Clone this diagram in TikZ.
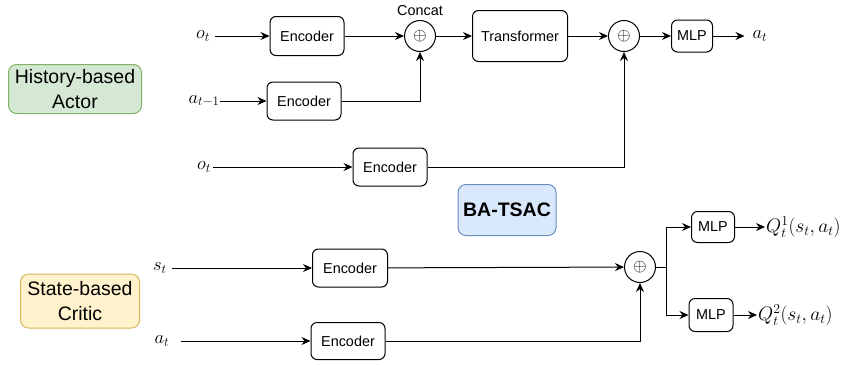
\RequirePackage{fix-cm}
\documentclass[tikz,border=0pt]{standalone}
\usepackage{fontspec}
\setsansfont{Liberation Sans}
\usetikzlibrary{arrows.meta}
\definecolor{actfill}{HTML}{D5E8D4}
\definecolor{actline}{HTML}{82B366}
\definecolor{critfill}{HTML}{FFF2CC}
\definecolor{critline}{HTML}{D6B656}
\definecolor{algfill}{HTML}{DAE8FC}
\definecolor{algline}{HTML}{6C8EBF}
\begin{document}
\begin{tikzpicture}[x=1pt,y=-1pt,
  blk/.style={draw,rounded corners=6pt,line width=1pt,inner sep=0pt,font=\sffamily\fontsize{14.4}{17}\selectfont},
  sum/.style={draw,circle,line width=1pt,minimum size=31pt,inner sep=0pt,font=\fontsize{17.5}{20}\selectfont},
  lbl/.style={inner sep=2pt,font=\fontsize{18.5}{21}\selectfont},
  qlbl/.style={anchor=west,inner sep=1pt,font=\fontsize{19.5}{22}\selectfont},
  tag/.style={draw,rounded corners=8pt,line width=1pt,align=center,inner sep=0pt,font=\sffamily\fontsize{19.5}{24.5}\selectfont},
  arr/.style={-{Stealth[length=9pt,width=8pt,inset=3pt]},line width=1pt}]

\useasboundingbox (0,0) rectangle (849,365);

\node[tag,fill=actfill,draw=actline,minimum width=133pt,minimum height=49pt] (actor) at (75,89) {History-based\\Actor};
\node[tag,fill=critfill,draw=critline,minimum width=119pt,minimum height=54pt] (critic) at (80,301) {State-based\\Critic};
\node[tag,fill=algfill,draw=algline,minimum width=98pt,minimum height=51pt,font=\sffamily\bfseries\fontsize{19.5}{24}\selectfont] (alg) at (507,210) {BA-TSAC};

\node[lbl,inner sep=5pt] (obs1) at (203,36) {$o_t$};
\node[blk,minimum width=74pt,minimum height=39pt] (enc1) at (307,36) {Encoder};
\node[sum] (cat1) at (420,36) {$\oplus$};
\node[font=\sffamily\fontsize{14.4}{17}\selectfont] (concat) at (420,11) {Concat};
\node[blk,minimum width=95pt,minimum height=51pt] (tf) at (520,36) {Transformer};
\node[sum] (cat2) at (624,36) {$\oplus$};
\node[blk,minimum width=41pt,minimum height=32pt] (mlp1) at (692,36) {MLP};
\node[lbl,inner sep=8pt] (act) at (760,36) {$a_t$};

\node[lbl,inner sep=0pt] (prev) at (204,101) {$a_{t-1}$};
\node[blk,minimum width=74pt,minimum height=38pt] (enc2) at (304,101) {Encoder};

\node[lbl] (obs2) at (204,167) {$o_t$};
\node[blk,minimum width=74pt,minimum height=38pt] (enc3) at (390,167) {Encoder};

\node[lbl,inner sep=5pt] (st) at (160,268) {$s_t$};
\node[blk,minimum width=75pt,minimum height=38pt] (enc4) at (350,268) {Encoder};
\node[lbl,inner sep=12pt] (at) at (162,341) {$a_t$};
\node[blk,minimum width=74pt,minimum height=37pt] (enc5) at (348,341) {Encoder};
\node[sum] (cat3) at (640,267) {$\oplus$};
\coordinate (split) at (666,267);
\node[blk,minimum width=43pt,minimum height=31pt] (mlp2) at (713,227) {MLP};
\node[blk,minimum width=44pt,minimum height=33pt] (mlp3) at (711,315) {MLP};
\node[qlbl] (q1) at (765,227) {$Q_t^1(s_t,a_t)$};
\node[qlbl] (q2) at (757,315) {$Q_t^2(s_t,a_t)$};

\draw[arr] (obs1) -- (enc1);
\draw[arr] (enc1) -- (cat1);
\draw[arr] (prev) -- (enc2);
\draw[arr] (enc2) -| (cat1);
\draw[arr] (cat1) -- (tf);
\draw[arr] (tf) -- (cat2);
\draw[arr] (obs2) -- (enc3);
\draw[arr] (enc3) -| (cat2);
\draw[arr] (cat2) -- (mlp1);
\draw[arr] (mlp1) -- (act);

\draw[arr] (st) -- (enc4);
\draw[arr] (enc4) -- (cat3);
\draw[arr] (at) -- (enc5);
\draw[arr] (enc5) -| (cat3);
\draw[line width=1pt] (cat3) -- (split);
\draw[arr] (split) |- (mlp2);
\draw[arr] (split) |- (mlp3);
\draw[arr] (mlp2) -- (q1);
\draw[arr] (mlp3) -- (q2);
\end{tikzpicture}
\end{document}
